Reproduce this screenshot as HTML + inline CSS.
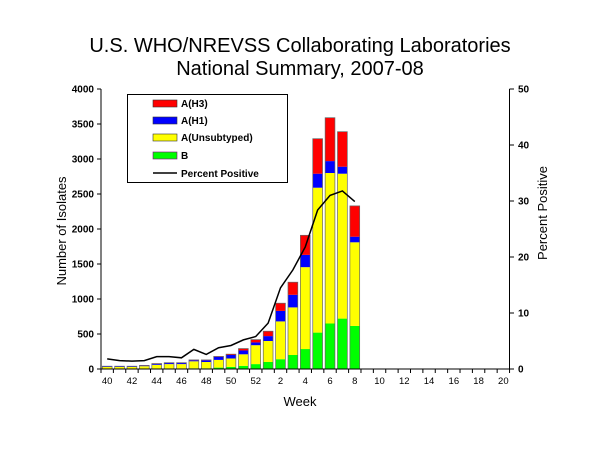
<!DOCTYPE html>
<html><head><meta charset="utf-8"><style>
html,body{margin:0;padding:0;background:#fff;}
svg{display:block;font-family:"Liberation Sans",Arial,sans-serif;}
</style></head><body>
<svg id="c" width="600" height="450" xmlns="http://www.w3.org/2000/svg">
<text x="300" y="52" font-size="20" text-anchor="middle">U.S. WHO/NREVSS Collaborating Laboratories</text>
<text x="300" y="75" font-size="20" text-anchor="middle">National Summary, 2007-08</text>
<g id="bars"></g>
<g id="axes" stroke="#000" stroke-width="1" fill="none"></g>
<g id="lbl" font-size="10" font-weight="bold"></g>
<polyline id="pp" fill="none" stroke="#000" stroke-width="1.5"></polyline>
<text transform="translate(66,231) rotate(-90)" font-size="13" text-anchor="middle">Number of Isolates</text>
<text transform="translate(547,213) rotate(-90)" font-size="13" text-anchor="middle">Percent Positive</text>
<text x="300" y="406" font-size="13" text-anchor="middle">Week</text>
<g>
<rect x="127.5" y="94.5" width="160" height="88" fill="#fff" stroke="#000"/>
<rect x="153" y="100" width="24" height="7" fill="#f00" stroke="#333" stroke-width="0.6"/>
<rect x="153" y="117" width="24" height="7" fill="#00f" stroke="#333" stroke-width="0.6"/>
<rect x="153" y="134" width="24" height="7" fill="#ff0" stroke="#333" stroke-width="0.6"/>
<rect x="153" y="152" width="24" height="7" fill="#0f0" stroke="#808" stroke-width="0.6"/>
<line x1="153" y1="173" x2="177" y2="173" stroke="#000" stroke-width="1.5"/>
<g font-size="10" font-weight="bold"><text x="181" y="107">A(H3)</text><text x="181" y="124">A(H1)</text><text x="181" y="141">A(Unsubtyped)</text><text x="181" y="159">B</text><text x="181" y="177">Percent Positive</text></g>
</g>
</svg>
<script>
var X0=101,SW=12.38,Y0=369,K=0.07;
var d=[[5,30,40,40],[5,30,38,40],[5,30,38,40],[5,40,48,52],[8,60,72,78],[8,70,85,90],[8,70,85,90],[10,110,125,130],[10,100,125,130],[20,130,175,180],[30,150,200,212],[45,210,265,292],[70,340,380,420],[100,400,470,540],[140,680,830,940],[200,880,1060,1240],[285,1455,1630,1910],[520,2590,2790,3290],[650,2800,2970,3590],[720,2790,2890,3390],[615,1810,1890,2330]];
var pp=[1.8,1.5,1.4,1.5,2.2,2.2,2.0,3.5,2.6,3.8,4.2,5.2,5.8,8.2,14.5,17.7,21.8,28.4,31,31.8,29.9];
var s='',cols=['#0f0','#ff0','#00f','#f00'];
d.forEach(function(v,i){var x=X0+SW*i+1.3,w=SW-2.6,prev=0;
 for(var j=0;j<4;j++){var y1=Y0-prev*K,y2=Y0-v[j]*K;if(y1-y2>0)s+='<rect x="'+x+'" y="'+y2+'" width="'+w+'" height="'+(y1-y2)+'" fill="'+cols[j]+'"/>';prev=v[j];}
 s+='<rect x="'+x+'" y="'+(Y0-v[3]*K)+'" width="'+w+'" height="'+(v[3]*K)+'" fill="none" stroke="#666" stroke-width="0.7"/>';
});
document.getElementById('bars').innerHTML=s;
var a='<line x1="'+X0+'" y1="89" x2="'+X0+'" y2="369"/><line x1="509.5" y1="89" x2="509.5" y2="369"/><line x1="'+X0+'" y1="369" x2="509.5" y2="369"/>';
var l='';
for(var v=0;v<=4000;v+=500){var y=Y0-v*K;a+='<line x1="97" y1="'+y+'" x2="'+X0+'" y2="'+y+'"/>';l+='<text x="94" y="'+(y+3.5)+'" text-anchor="end">'+v+'</text>';}
for(var p=0;p<=50;p+=10){var y=Y0-p*5.6;a+='<line x1="509.5" y1="'+y+'" x2="514" y2="'+y+'"/>';l+='<text x="518" y="'+(y+3.5)+'">'+p+'</text>';}
for(var i=0;i<=33;i++){var x=X0+SW*i;a+='<line x1="'+x+'" y1="369" x2="'+x+'" y2="373"/>';}
var wk=[];for(var w=40;w<=52;w++)wk.push(w);for(w=1;w<=20;w++)wk.push(w);
wk.forEach(function(w,i){if(w%2==0){l+='<text x="'+(X0+SW*(i+0.5))+'" y="384" text-anchor="middle" font-weight="normal" font-size="9.5">'+w+'</text>';}});
document.getElementById('axes').innerHTML=a;document.getElementById('lbl').innerHTML=l;
document.getElementById('pp').setAttribute('points',pp.map(function(p,i){return (X0+SW*(i+0.5))+','+(Y0-p*5.6)}).join(' '));
</script>
</body></html>
